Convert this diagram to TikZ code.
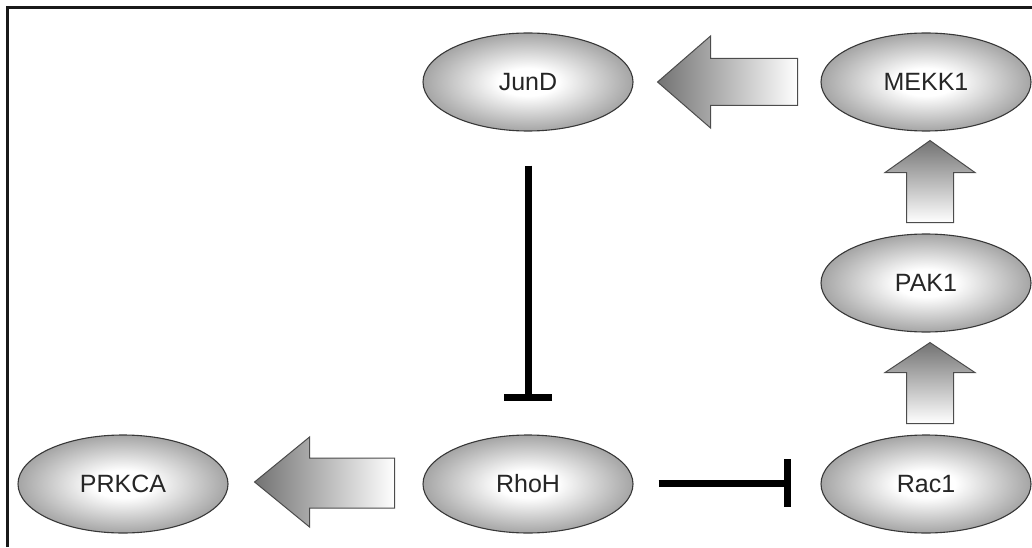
\documentclass[tikz,border=0pt]{standalone}
\usepackage{fontspec}
\setmainfont{Liberation Sans}
\usetikzlibrary{shapes.geometric,arrows.meta}
\pgfdeclareradialshading{ellshade}{\pgfpoint{0bp}{0bp}}{color(0bp)=(white); color(7bp)=(white); color(34bp)=(black!53); color(37bp)=(black!56); color(75bp)=(black!56)}
\begin{document}
\begin{tikzpicture}[x=1pt,y=1pt,
  prot/.style={ellipse, draw=black!78, line width=1.1pt, shading=ellshade,
    minimum width=210pt, minimum height=98pt, inner sep=0pt,
    font=\fontsize{25}{28}\selectfont, text=black!85},
  harrow/.style={draw=black!70, line width=1pt, left color=black!55, right color=white},
  varrow/.style={draw=black!70, line width=1pt, top color=black!55, bottom color=white},
  inh/.style={line width=7pt, -{Bar[width=48pt,line width=7pt]}}
]
\useasboundingbox (0,0) rectangle (1032,547);
\draw[line width=3pt, black!90] (7.5,0) -- (7.5,539.5) -- (1032,539.5);

\node[prot] (junD) at (528,465) {JunD};
\node[prot] (mekk1) at (926,465) {MEKK1};
\node[prot] (pak1) at (926,264) {PAK1};
\node[prot] (rac1) at (926,63) {Rac1};
\node[prot] (rhoH) at (528,63) {RhoH};
\node[prot] (prkca) at (123,63) {PRKCA};

% MEKK1 -> JunD
\shade[harrow] ([xshift=24pt]junD.east) -- ++(53,46) -- ++(0,-22.5) -- ++(87,0) -- ++(0,-47) -- ++(-87,0) -- ++(0,-22.5) -- cycle;
% RhoH -> PRKCA
\shade[harrow] ([xshift=26pt,yshift=2pt]prkca.east) -- ++(55,45) -- ++(0,-21) -- ++(85,0) -- ++(0,-50) -- ++(-85,0) -- ++(0,-19) -- cycle;
% PAK1 -> MEKK1
\shade[varrow] ([xshift=4pt,yshift=-9pt]mekk1.south) -- ++(45,-32) -- ++(-21.5,0) -- ++(0,-50) -- ++(-47,0) -- ++(0,50) -- ++(-21.5,0) -- cycle;
% Rac1 -> PAK1
\shade[varrow] ([xshift=4pt,yshift=-10pt]pak1.south) -- ++(45,-30) -- ++(-21.5,0) -- ++(0,-51) -- ++(-47,0) -- ++(0,51) -- ++(-21.5,0) -- cycle;

\draw[inh] ([yshift=-34pt]junD.south) -- ([yshift=33pt]rhoH.north);
\draw[inh] ([xshift=25pt,yshift=1pt]rhoH.east) -- ([xshift=-29pt,yshift=1pt]rac1.west);
\end{tikzpicture}
\end{document}
